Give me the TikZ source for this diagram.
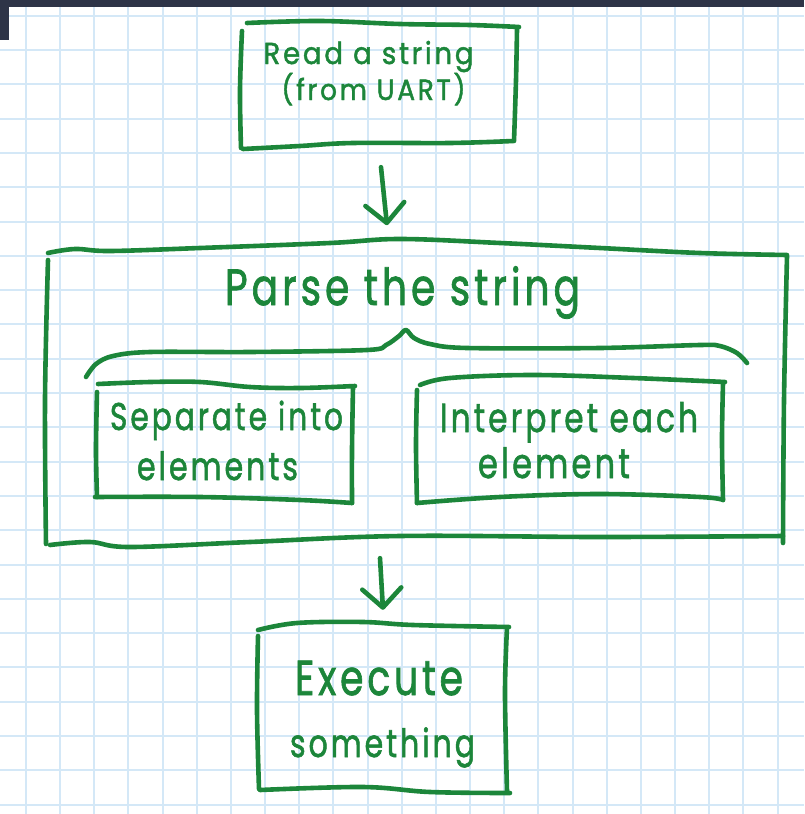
\documentclass[tikz,border=0pt]{standalone}
\usepackage{fontspec}
\setmainfont{Poppins}[LetterSpace=10,FakeBold=1.6]
\usetikzlibrary{arrows.meta,calc}
\definecolor{ink}{RGB}{28,134,58}
\definecolor{gridblue}{RGB}{212,232,247}
\definecolor{topbar}{RGB}{46,52,71}
% scale a line of lettering to a given width (in pt), stretched upright by #1
\newcommand{\hwx}[3]{\scalebox{1}[#1]{\resizebox{#2pt}{!}{#3}}}
\newcommand{\hw}[2]{\hwx{1.3}{#1}{#2}}

\begin{document}
\begin{tikzpicture}[x=1pt,y=-1pt,
  pen/.style={draw=ink,line width=4.6pt,line cap=round,line join=round},
  gridline/.style={draw=gridblue,line width=2pt},
  lbl/.style={inner sep=0pt,anchor=base,text=ink},
  area/.style={draw=none,inner sep=0pt,rectangle},
  flow/.style={pen,-{Straight Barb[length=19pt,width=39pt,round]}}]

\useasboundingbox (0,0) rectangle (804,814);
\fill[white] (0,0) rectangle (804,814);

% squared paper
\foreach \k in {0,...,22}
  \draw[gridline] ({26+34.16*\k},0) -- ({26+34.16*\k},814);
\foreach \k in {0,...,23}
  \draw[gridline] (0,{15.7+34.3*\k}) -- (804,{15.7+34.3*\k});

% window bar
\fill[topbar] (0,0) rectangle (804,7);
\fill[topbar] (0,0) rectangle (9,40);

% box areas
\node[area,minimum width=276pt,minimum height=124pt] (read)   at (379,85)    {};
\node[area,minimum width=740pt,minimum height=305pt] (parse)  at (416,392.5) {};
\node[area,minimum width=257pt,minimum height=118pt] (sep)    at (225.5,443) {};
\node[area,minimum width=306pt,minimum height=117pt] (interp) at (570,441.5) {};
\node[area,minimum width=250pt,minimum height=165pt] (exec)   at (383,707.5) {};

% hand-drawn outlines
% read a string
\draw[pen] plot[smooth,tension=0.6] coordinates {(247,23) (320,21) (400,24) (470,25) (519,27)};
\draw[pen] plot[smooth,tension=0.6] coordinates {(517,29) (516,80) (514,141)};
\draw[pen] plot[smooth,tension=0.6] coordinates {(243,149) (300,146) (353,143) (450,143) (513,141)};
\draw[pen] plot[smooth,tension=0.6] coordinates {(242,31) (240,90) (241,148)};
% parse the string
\draw[pen] plot[smooth,tension=0.6] coordinates {(48,253) (75,249) (110,251) (200,248) (330,243) (400,239) (500,243) (600,248) (700,253) (787,255)};
\draw[pen] plot[smooth,tension=0.6] coordinates {(787,256) (784,400) (783,543)};
\draw[pen] plot[smooth,tension=0.6] coordinates {(50,545) (90,542) (130,547) (250,542) (400,536) (600,537) (783,536)};
\draw[pen] plot[smooth,tension=0.6] coordinates {(48,260) (45,400) (46,544)};
% brace under the title
\draw[pen] plot[smooth,tension=0.55] coordinates {(86,377) (96,364) (113,356) (150,352) (250,352) (367,350) (386,345) (399,336) (406,330) (414,338) (430,344) (467,348) (600,348) (700,345) (720,346) (737,353) (747,363)};
% separate into elements
\draw[pen] plot[smooth,tension=0.6] coordinates {(98,384) (150,382) (200,382) (250,387) (300,388) (355,386)};
\draw[pen] plot[smooth,tension=0.6] coordinates {(353,387) (352,450) (352,503)};
\draw[pen] plot[smooth,tension=0.6] coordinates {(95,497) (200,497) (300,500) (352,503)};
\draw[pen] plot[smooth,tension=0.6] coordinates {(97,392) (96,450) (97,497)};
% interpret each element
\draw[pen] plot[smooth,tension=0.6] coordinates {(420,385) (450,378) (533,375) (633,378) (725,382)};
\draw[pen] plot[smooth,tension=0.6] coordinates {(723,383) (722,440) (723,500)};
\draw[pen] plot[smooth,tension=0.6] coordinates {(417,503) (500,497) (600,494) (700,497) (723,500)};
\draw[pen] plot[smooth,tension=0.6] coordinates {(417,390) (416,445) (417,503)};
% execute something
\draw[pen] plot[smooth,tension=0.6] coordinates {(258,630) (297,623) (363,622) (413,625) (509,627)};
\draw[pen] plot[smooth,tension=0.6] coordinates {(507,628) (505,693) (507,791)};
\draw[pen] plot[smooth,tension=0.6] coordinates {(260,790) (363,787) (430,792) (510,793)};
\draw[pen] plot[smooth,tension=0.6] coordinates {(258,636) (257,710) (259,789)};

% lettering
\node[lbl] (readA)   at (368.5,64)  {\hwx{1.1}{210}{Read a string}};
\node[lbl] (readB)   at (373.5,100) {\hwx{1.1}{184}{(from UART)}};
\node[lbl] (title)   at (402.5,305) {\hw{355}{Parse the string}};
\node[lbl] (sepA)    at (226.5,430) {\hw{233}{Separate into}};
\node[lbl] (sepB)    at (217.5,480) {\hw{161}{elements}};
\node[lbl] (interpA) at (569,432)   {\hw{258}{Interpret each}};
\node[lbl] (interpB) at (554,478)   {\hw{152}{element}};
\node[lbl] (execA)   at (379,695)   {\hw{168}{Execute}};
\node[lbl] (execB)   at (382.5,757) {\hw{185}{something}};

% flow arrows
\draw[flow] ($(read.south)+(2,20)$) -- ($(read.south)+(8,78)$);
\draw[flow] ($(parse.south -| exec.north)+(-3,13)$) -- ($(exec.north)+(0,-15)$);
\end{tikzpicture}
\end{document}
